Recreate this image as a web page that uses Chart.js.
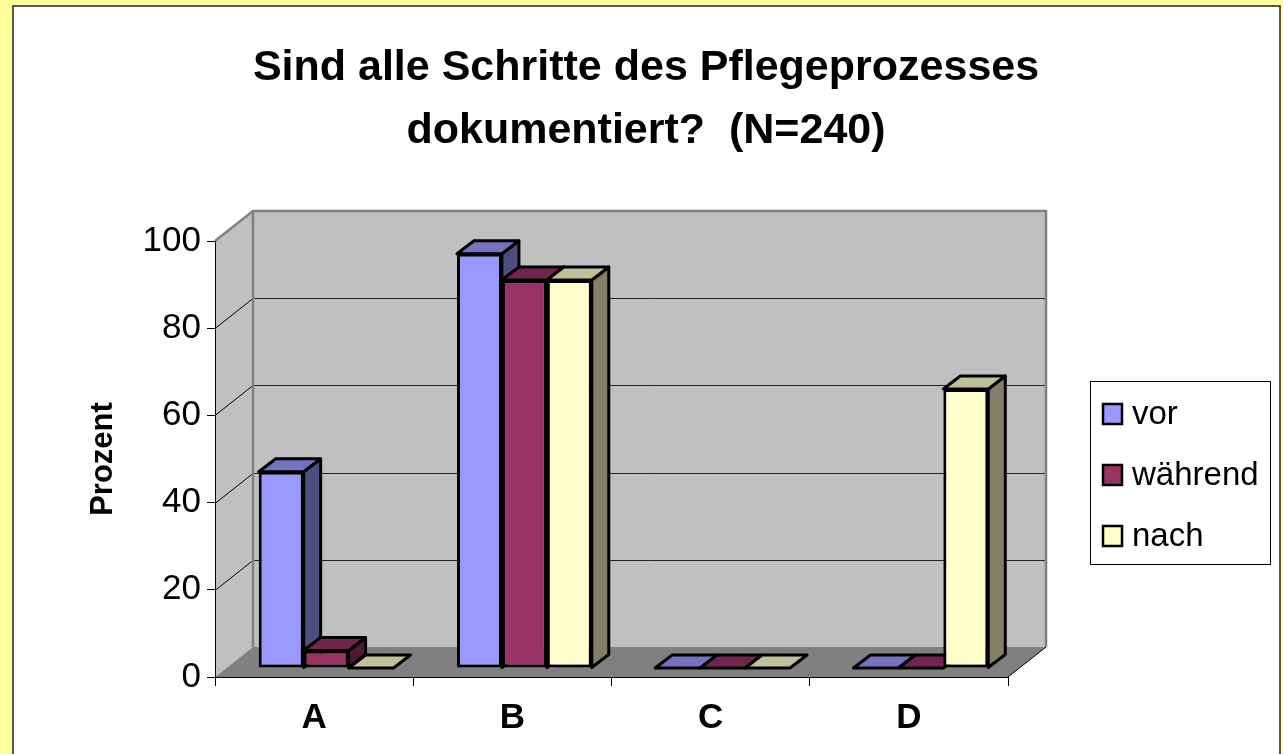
<!DOCTYPE html>
<html>
<head>
<meta charset="utf-8">
<script src="https://cdn.jsdelivr.net/npm/chart.js@4"></script>
<style>
  html, body { margin: 0; padding: 0; background: #FFFF99; overflow: hidden; }
  #wrap { width: 1283px; height: 754px; position: relative; }
</style>
</head>
<body>
<div id="wrap"><canvas id="pflege-chart"></canvas></div>
<script>
// data
const categories = ["A", "B", "C", "D"];
const seriesNames = ["vor", "während", "nach"];
const vorValues = [45, 95, 0, 0];
const waehrendValues = [4, 89, 0, 0];
const nachValues = [0, 89, 0, 64];
const seriesColors = ["#9999FF", "#993366", "#FFFFCC"];
const yTicks = [0, 20, 40, 60, 80, 100];
const titleLines = ["Sind alle Schritte des Pflegeprozesses", "dokumentiert?  (N=240)"];

const FONT = "'Liberation Sans', Arial, sans-serif";

// depth of the floor / walls and of the bars
const WALL_DX = 38, WALL_DY = -30;
const ROW_DX = 12, ROW_DY = -9;
const BAR_DX = 17, BAR_DY = -13;

function shade(hex, f) {
    const n = parseInt(hex.slice(1), 16);
    const r = (n >> 16) & 255, g = (n >> 8) & 255, b = n & 255;
    return `rgb(${Math.round(r * f)},${Math.round(g * f)},${Math.round(b * f)})`;
}

function poly(ctx, pts, fill, stroke, lw) {
    ctx.beginPath();
    ctx.moveTo(pts[0][0], pts[0][1]);
    for (let i = 1; i < pts.length; i++) ctx.lineTo(pts[i][0], pts[i][1]);
    ctx.closePath();
    if (fill) { ctx.fillStyle = fill; ctx.fill(); }
    if (stroke) { ctx.strokeStyle = stroke; ctx.lineWidth = lw || 1; ctx.stroke(); }
}

// background, title, walls, floor
const backdrop = {
    id: "backdrop",
    beforeDraw(chart) {
        const ctx = chart.ctx;
        const {left, right} = chart.chartArea;
        const y = chart.scales.y;
        const y0 = y.getPixelForValue(0), y100 = y.getPixelForValue(100);

        ctx.save();
        ctx.fillStyle = "#FFFF99";
        ctx.fillRect(0, 0, chart.width, chart.height);
        ctx.fillStyle = "#FFFFFF";
        ctx.fillRect(13, 6, 1267, 760);
        ctx.strokeStyle = "#222";
        ctx.lineWidth = 1.5;
        ctx.strokeRect(13, 6, 1267, 760);

        // title
        ctx.fillStyle = "#000";
        ctx.font = "bold 43px " + FONT;
        ctx.textAlign = "center";
        ctx.textBaseline = "alphabetic";
        ctx.fillText(titleLines[0], 646, 80);
        ctx.fillText(titleLines[1], 646, 143);

        // back wall, side wall, floor
        poly(ctx, [[left + WALL_DX, y100 + WALL_DY], [right + WALL_DX, y100 + WALL_DY],
                   [right + WALL_DX, y0 + WALL_DY], [left + WALL_DX, y0 + WALL_DY]], "#C0C0C0");
        poly(ctx, [[left, y100], [left + WALL_DX, y100 + WALL_DY],
                   [left + WALL_DX, y0 + WALL_DY], [left, y0]], "#C0C0C0");
        poly(ctx, [[left, y0], [right, y0], [right + WALL_DX, y0 + WALL_DY],
                   [left + WALL_DX, y0 + WALL_DY]], "#808080");

        // grid lines on the walls
        ctx.lineWidth = 1;
        y.ticks.forEach(t => {
            if (t.value <= 0 || t.value >= 100) return;
            const py = Math.round(y.getPixelForValue(t.value)) + 0.5;
            ctx.strokeStyle = "#222";
            ctx.beginPath();
            ctx.moveTo(left + WALL_DX, py + WALL_DY);
            ctx.lineTo(right + WALL_DX, py + WALL_DY);
            ctx.stroke();
            ctx.strokeStyle = "#000";
            ctx.beginPath();
            ctx.moveTo(left, py);
            ctx.lineTo(left + WALL_DX, py + WALL_DY);
            ctx.stroke();
        });

        // wall edges
        ctx.strokeStyle = "#808080";
        ctx.lineWidth = 2.5;
        ctx.beginPath();
        ctx.moveTo(left, y100);
        ctx.lineTo(left + WALL_DX, y100 + WALL_DY);
        ctx.lineTo(right + WALL_DX, y100 + WALL_DY);
        ctx.lineTo(right + WALL_DX, y0 + WALL_DY);
        ctx.moveTo(left + WALL_DX, y100 + WALL_DY);
        ctx.lineTo(left + WALL_DX, y0 + WALL_DY);
        ctx.stroke();
        ctx.strokeStyle = "#000";
        ctx.lineWidth = 1;
        ctx.beginPath();
        ctx.moveTo(right, y0);
        ctx.lineTo(right + WALL_DX, y0 + WALL_DY);
        ctx.stroke();
        ctx.restore();
    },
    afterDraw(chart) {
        // legend box
        const ctx = chart.ctx;
        ctx.save();
        ctx.fillStyle = "#FFFFFF";
        ctx.fillRect(1090, 381, 180, 183);
        ctx.strokeStyle = "#000";
        ctx.lineWidth = 1;
        ctx.strokeRect(1090.5, 381.5, 180, 183);
        ctx.font = "33px " + FONT;
        ctx.textAlign = "left";
        ctx.textBaseline = "alphabetic";
        chart.data.datasets.forEach((ds, i) => {
            const top = 404 + i * 61;
            ctx.fillStyle = ds.backgroundColor;
            ctx.fillRect(1103, top, 19, 20);
            ctx.strokeStyle = "#000";
            ctx.lineWidth = 2.5;
            ctx.strokeRect(1103, top, 19, 20);
            ctx.fillStyle = "#000";
            ctx.fillText(ds.label, 1132, top + 20);
        });
        ctx.restore();
    }
};

// 3d bars: side and top faces, then the library's own bar on top
const bars3d = {
    id: "bars3d",
    beforeDatasetsDraw(chart) {
        const ctx = chart.ctx;
        ctx.save();
        ctx.translate(ROW_DX, ROW_DY);
        ctx.lineJoin = "round";
        chart.data.datasets.forEach((ds, i) => {
            const meta = chart.getDatasetMeta(i);
            const col = ds.backgroundColor;
            meta.data.forEach(bar => {
                const {x, y, base, width} = bar.getProps(["x", "y", "base", "width"], true);
                const l = x - width / 2, r = x + width / 2;
                if (base - y > 0.5) {
                    poly(ctx, [[r, y], [r + BAR_DX, y + BAR_DY], [r + BAR_DX, base + BAR_DY], [r, base]],
                         shade(col, 0.5), "#000", 3);
                }
                poly(ctx, [[l, y], [r, y], [r + BAR_DX, y + BAR_DY], [l + BAR_DX, y + BAR_DY]],
                     shade(col, 0.75), "#000", 3);
                bar.draw(ctx, chart.chartArea);
            });
        });
        ctx.restore();
        return false;
    }
};

const pflegeData = {
    labels: categories,
    datasets: [vorValues, waehrendValues, nachValues].map((vals, i) => ({
        label: seriesNames[i],
        data: vals,
        backgroundColor: seriesColors[i],
        borderColor: "#000",
        borderWidth: 3,
        borderSkipped: false,
        barPercentage: 1,
        categoryPercentage: 0.68
    }))
};

const pflegeOptions = {
    responsive: true,
    maintainAspectRatio: false,
    animation: false,
    layout: {
        padding: { left: 13, right: 275, top: 241, bottom: 0 }
    },
    scales: {
        x: {
            grid: { display: true, drawOnChartArea: false, drawTicks: true, tickLength: 9, color: "#000", offset: true },
            border: { display: true, color: "#000", width: 1 },
            ticks: { color: "#000", padding: 11, font: { family: FONT, size: 35, weight: "bold" } },
            afterFit(scale) { scale.height = 77; }
        },
        y: {
            min: 0,
            max: 100,
            afterBuildTicks(scale) { scale.ticks = yTicks.map(v => ({ value: v })); },
            grid: { display: true, drawOnChartArea: false, drawTicks: true, tickLength: 8, color: "#000" },
            border: { display: true, color: "#000", width: 1 },
            ticks: { color: "#000", padding: 6, font: { family: FONT, size: 35 } },
            title: {
                display: true,
                text: "Prozent",
                color: "#000",
                padding: { top: 72 },
                font: { family: FONT, size: 31, weight: "bold" }
            },
            afterFit(scale) { scale.width = 202; }
        }
    },
    plugins: {
        legend: { display: false },
        title: { display: false },
        tooltip: { enabled: false }
    }
};

let pflegeChart = new Chart(document.getElementById("pflege-chart"), {
    type: "bar",
    data: pflegeData,
    options: pflegeOptions,
    plugins: [backdrop, bars3d]
});
</script>
</body>
</html>
